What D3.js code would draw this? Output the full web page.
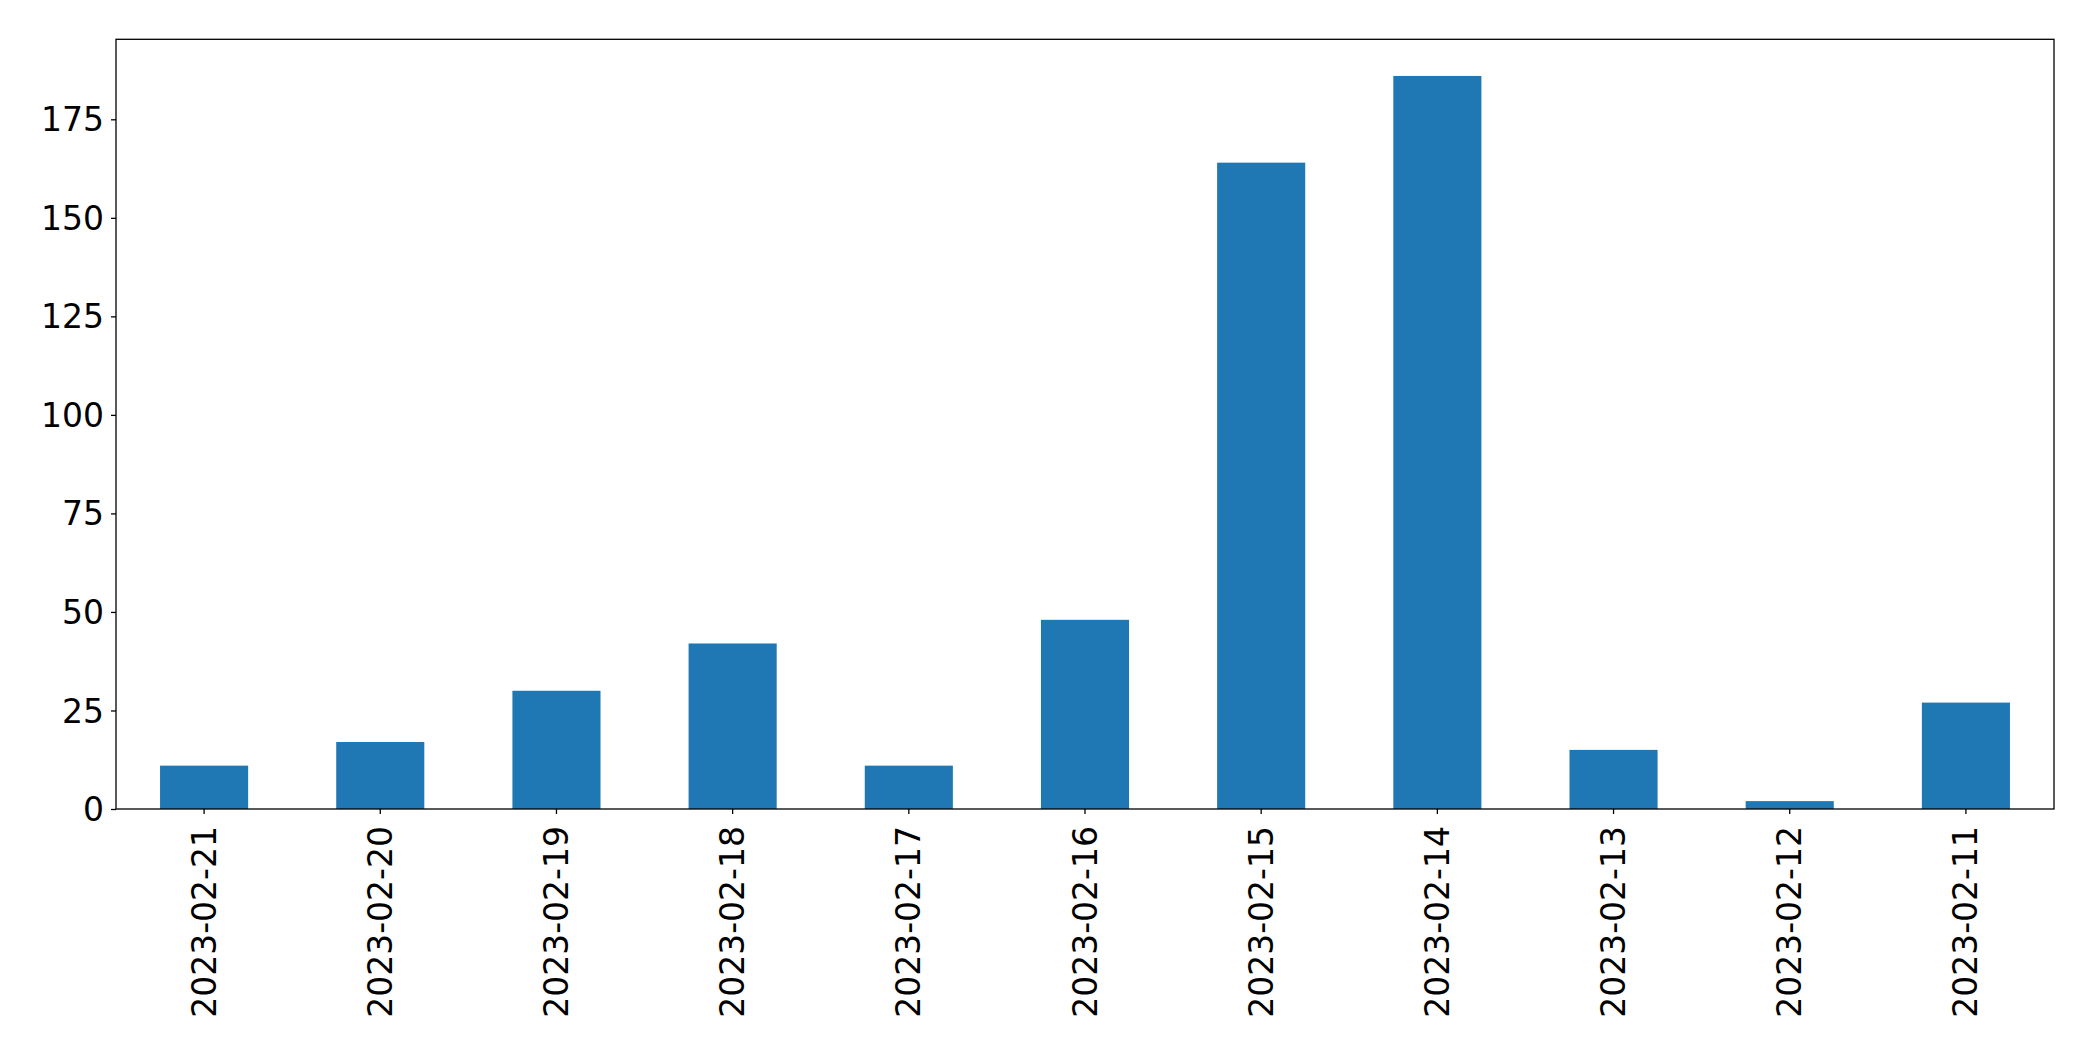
<!DOCTYPE html>
<html>
<head>
<meta charset="utf-8">
<script src="https://cdn.jsdelivr.net/npm/d3@7"></script>
<style>
  html, body { margin: 0; padding: 0; background: #fff; }
  svg { display: block; }
  text { font-family: "DejaVu Sans", sans-serif; fill: #000; }
</style>
</head>
<body>
<svg id="chart" width="2093" height="1061"></svg>
<script>
const categories = ["2023-02-21","2023-02-20","2023-02-19","2023-02-18","2023-02-17","2023-02-16","2023-02-15","2023-02-14","2023-02-13","2023-02-12","2023-02-11"];
const values = [11, 17, 30, 42, 11, 48, 164, 186, 15, 2, 27];
const yTicks = [0, 25, 50, 75, 100, 125, 150, 175];

const svg = d3.select("#chart");
const mLeft = 116, mRight = 2054, mTop = 39.3, mBottom = 809;
const fontSize = 33;

const x = d3.scaleBand().domain(categories).range([mLeft, mRight]).paddingInner(0.5).paddingOuter(0.25);
const y = d3.scaleLinear().domain([0, d3.max(values) * 1.05]).range([mBottom, mTop]);

svg.append("g").selectAll("rect").data(values).join("rect")
  .attr("x", (d, i) => x(categories[i]))
  .attr("y", d => y(d))
  .attr("width", x.bandwidth())
  .attr("height", d => y(0) - y(d))
  .attr("fill", "#1f77b4");

// y axis
const yAxis = svg.append("g").attr("transform", `translate(${mLeft},0)`)
  .call(d3.axisLeft(y).tickValues(yTicks).tickSize(5).tickPadding(7).tickFormat(d3.format("d")));
yAxis.select(".domain").remove();
yAxis.selectAll("line").attr("stroke", "#000").attr("stroke-width", 1.3);
yAxis.selectAll("text").attr("font-size", fontSize).attr("font-family", "DejaVu Sans").attr("fill", "#000").attr("dy", "0.35em");

// x axis
const xAxis = svg.append("g").attr("transform", `translate(0,${mBottom})`)
  .call(d3.axisBottom(x).tickSize(5).tickPadding(0));
xAxis.select(".domain").remove();
xAxis.selectAll("line").attr("stroke", "#000").attr("stroke-width", 1.3);
xAxis.selectAll("text")
  .attr("font-size", fontSize).attr("font-family", "DejaVu Sans").attr("fill", "#000")
  .attr("text-anchor", "end")
  .attr("dy", null)
  .attr("y", 0)
  .attr("transform", "translate(0,17) rotate(-90)")
  .attr("dominant-baseline", "central");

// frame
svg.append("rect")
  .attr("x", mLeft).attr("y", mTop)
  .attr("width", mRight - mLeft).attr("height", mBottom - mTop)
  .attr("fill", "none").attr("stroke", "#000").attr("stroke-width", 1.3);
</script>
</body>
</html>
